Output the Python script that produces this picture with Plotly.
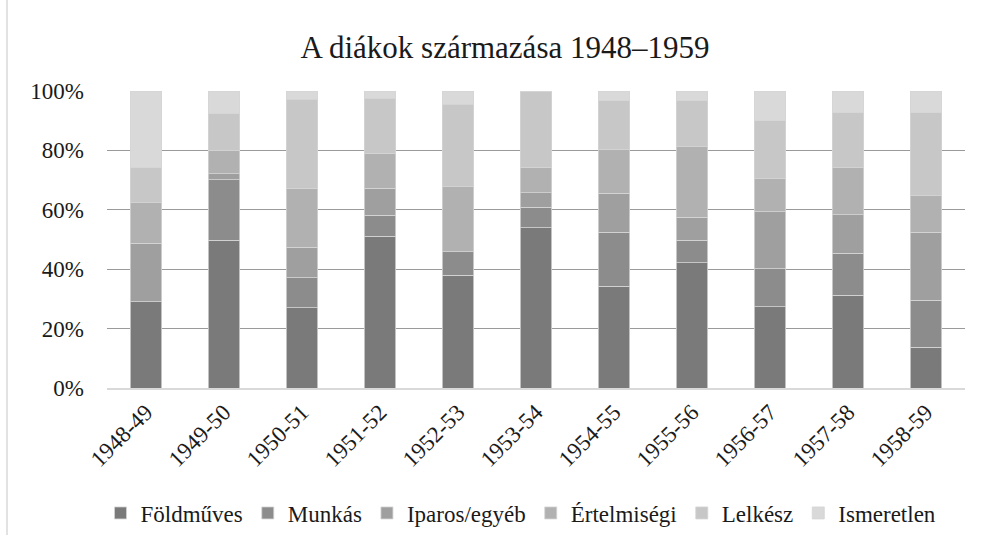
import plotly.graph_objects as go

YEARS = ["1948-49", "1949-50", "1950-51", "1951-52", "1952-53", "1953-54",
         "1954-55", "1955-56", "1956-57", "1957-58", "1958-59"]

FOLDMUVES = [29.1, 49.7, 27.0, 51.1, 37.9, 54.0, 34.2, 42.2, 27.4, 31.2, 13.7]
MUNKAS = [0.0, 20.4, 10.2, 7.0, 8.0, 6.8, 18.2, 7.5, 12.7, 14.2, 15.8]
IPAROS = [19.6, 2.1, 10.2, 9.2, 0.0, 4.9, 13.1, 7.8, 19.3, 13.0, 22.9]
ERTELMISEGI = [13.7, 7.6, 19.9, 11.7, 21.9, 8.7, 14.7, 23.8, 11.1, 15.8, 12.4]
LELKESZ = [11.8, 12.6, 30.0, 18.5, 27.8, 25.6, 16.5, 15.4, 19.5, 18.5, 27.9]
ISMERETLEN = [25.8, 7.6, 2.7, 2.5, 4.4, 0.0, 3.3, 3.3, 10.0, 7.3, 7.3]

Y_TICKS = [0, 20, 40, 60, 80, 100]
Y_TICK_LABELS = ["0%", "20%", "40%", "60%", "80%", "100%"]

SERIES = [
    ("Földműves", FOLDMUVES, "#7a7a7a"),
    ("Munkás", MUNKAS, "#8c8c8c"),
    ("Iparos/egyéb", IPAROS, "#9f9f9f"),
    ("Értelmiségi", ERTELMISEGI, "#b1b1b1"),
    ("Lelkész", LELKESZ, "#c7c7c7"),
    ("Ismeretlen", ISMERETLEN, "#d9d9d9"),
]

FONT = "Liberation Serif, Times New Roman, serif"

fig = go.Figure()
for name, vals, color in SERIES:
    fig.add_trace(go.Bar(
        x=YEARS, y=vals, name=name,
        marker={"color": color, "line": {"color": "#d4d4d4", "width": 0.8}},
    ))

fig.update_layout(
    width=981, height=535,
    barmode="stack", barnorm="percent", bargap=0.6,
    paper_bgcolor="white", plot_bgcolor="white",
    font={"family": FONT, "color": "#1a1a1a", "size": 23},
    margin={"l": 107, "r": 16, "t": 91, "b": 147},
    title={"text": "A diákok származása 1948–1959", "xref": "paper", "x": (505 - 107) / 858,
           "xanchor": "center", "y": 1 - 47 / 535, "yanchor": "middle",
           "font": {"size": 31, "color": "#1a1a1a"}},
    legend={"orientation": "h", "x": (521 - 107) / 858, "xanchor": "center", "yref": "container",
            "y": 22 / 535, "yanchor": "middle", "font": {"size": 23}, "traceorder": "normal",
            "itemwidth": 30},
    xaxis={"tickangle": -45, "showgrid": False, "showline": True, "linecolor": "#d9d9d9",
           "linewidth": 1.5, "tickfont": {"size": 23}},
    yaxis={"range": [0, 100], "tickvals": Y_TICKS, "ticktext": Y_TICK_LABELS,
           "gridcolor": "#9a9a9a", "gridwidth": 1, "zeroline": False, "showline": False,
           "tickfont": {"size": 23}, "ticklabelstandoff": 22},
    shapes=[
        {"type": "line", "xref": "paper", "yref": "paper",
         "x0": (7 - 107) / 858, "x1": (7 - 107) / 858, "y0": -147 / 297, "y1": 1 + 91 / 297,
         "line": {"color": "#d9d9d9", "width": 1.5}},
    ],
)

fig.write_html("out.html", config={"displayModeBar": False},
               post_script="document.body.style.margin='0px';")
